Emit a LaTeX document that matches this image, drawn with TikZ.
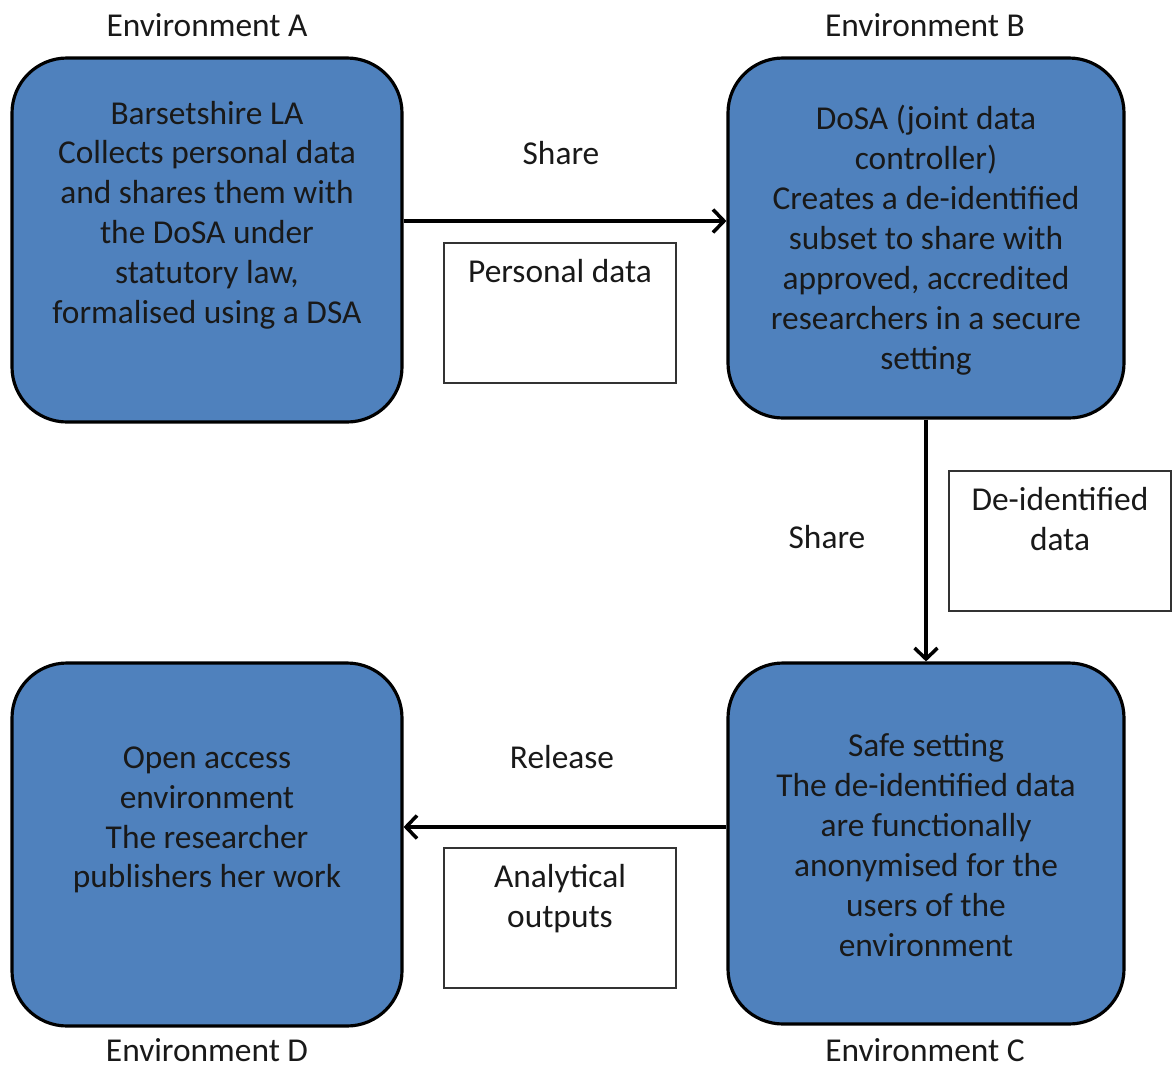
\documentclass[tikz,border=0pt]{standalone}
\usepackage{fontspec}
\setmainfont{Carlito}
\usetikzlibrary{arrows.meta,positioning}
\definecolor{envblue}{RGB}{79,129,189}
\tikzset{
  envbox/.style={draw=black, line width=1.8pt, fill=envblue, rounded corners=1.1cm},
  databox/.style={draw=black!80, line width=0.6pt, fill=white},
  boxtext/.style={align=center, font=\fontsize{19pt}{22.7pt}\selectfont, text=black!90},
  flow/.style={line width=2pt, -{Straight Barb[length=0.22cm, width=0.46cm, line width=2pt]}}
}
\begin{document}
\begin{tikzpicture}
  \useasboundingbox (0, 0) rectangle (23.46, -21.32);
  \node[envbox, minimum width=7.8cm, minimum height=7.28cm] (envA) at (4.14, -4.80) {};
  \node[envbox, minimum width=7.92cm, minimum height=7.2cm] (envB) at (18.52, -4.76) {};
  \node[envbox, minimum width=7.92cm, minimum height=7.22cm] (envC) at (18.52, -16.87) {};
  \node[envbox, minimum width=7.8cm, minimum height=7.26cm] (envD) at (4.14, -16.89) {};

  \node[boxtext] (txtA) at (4.14, -4.3) {Barsetshire LA\\Collects personal data\\and shares them with\\the DoSA under\\statutory law,\\formalised using a DSA};
  \node[boxtext] (txtB) at (18.52, -4.8) {DoSA (joint data\\controller)\\Creates a de-identified\\subset to share with\\approved, accredited\\researchers in a secure\\setting};
  \node[boxtext] (txtC) at (18.52, -16.9) {Safe setting\\The de-identified data\\are functionally\\anonymised for the\\users of the\\environment};
  \node[boxtext] (txtD) at (4.14, -16.4) {Open access\\environment\\The researcher\\publishers her work};

  % environment titles
  \node[boxtext, inner sep=0pt] (titleA) at (4.14, -0.5) {Environment A};
  \node[boxtext, inner sep=0pt] (titleB) at (18.5, -0.5) {Environment B};
  \node[boxtext, inner sep=0pt] (titleC) at (18.5, -21.0) {Environment C};
  \node[boxtext, inner sep=0pt] (titleD) at (4.14, -21.0) {Environment D};

  % what moves between them
  \node[databox, minimum width=4.64cm, minimum height=2.8cm] (personal) at (11.2, -6.26) {};
  \node[boxtext, anchor=north, yshift=-0.22cm] (personaltxt) at (personal.north) {Personal data};
  \node[databox, minimum width=4.44cm, minimum height=2.8cm] (deident) at (21.2, -10.82) {};
  \node[boxtext, anchor=north, yshift=-0.22cm] (deidenttxt) at (deident.north) {De-identified\\data};
  \node[databox, minimum width=4.64cm, minimum height=2.8cm] (outputs) at (11.2, -18.36) {};
  \node[boxtext, anchor=north, yshift=-0.22cm] (outputstxt) at (outputs.north) {Analytical\\outputs};

  \draw[flow] (envA.east |- 0, -4.42) -- (envB.west |- 0, -4.42);
  \draw[flow] (envB) -- (envC);
  \draw[flow] (envC.west |- 0, -16.54) -- (envD.east |- 0, -16.54);

  \node[boxtext] (share1) at (11.22, -3.06) {Share};
  \node[boxtext] (share2) at (16.54, -10.74) {Share};
  \node[boxtext] (release) at (11.24, -15.14) {Release};
\end{tikzpicture}
\end{document}
